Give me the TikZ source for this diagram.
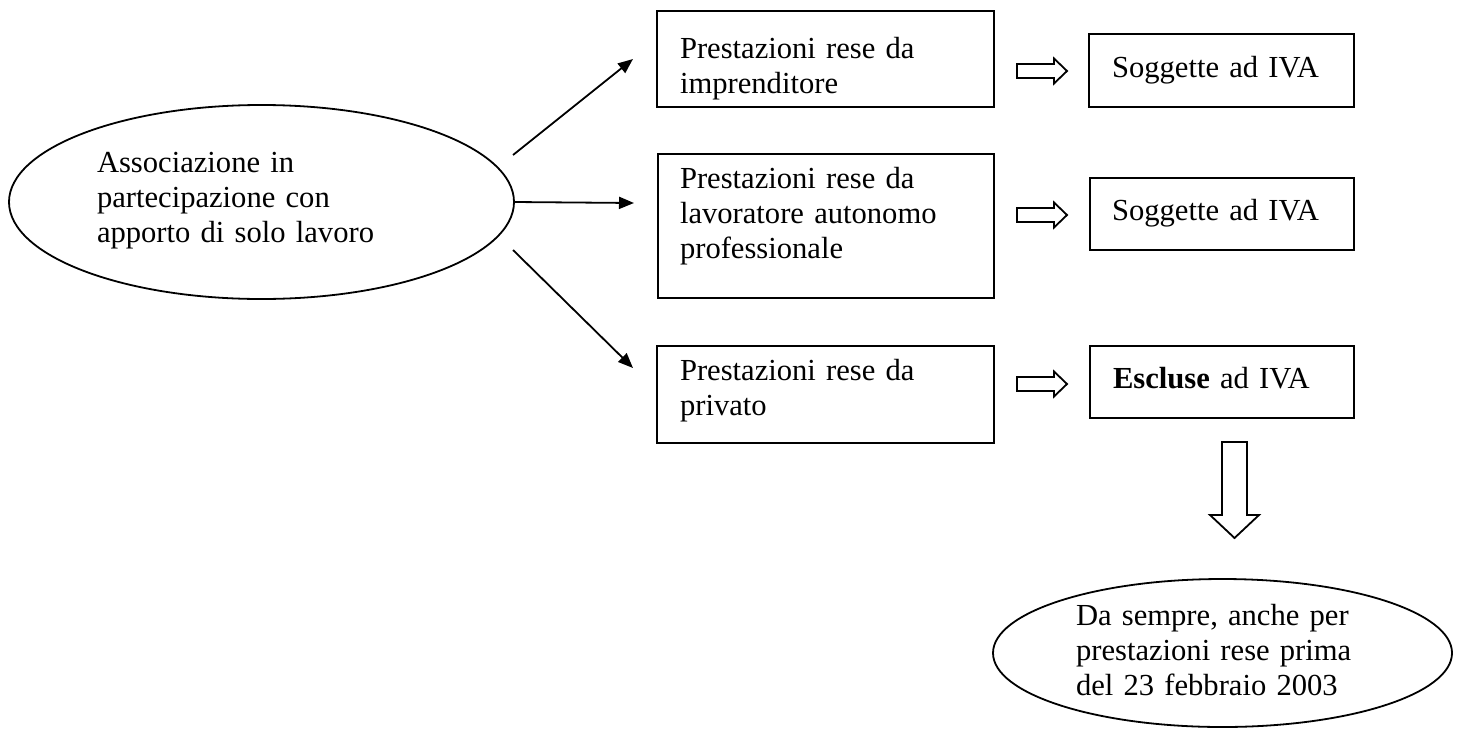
\documentclass[tikz,border=0pt]{standalone}
\usepackage{fontspec}
\setmainfont{Liberation Serif}
\usetikzlibrary{shapes.geometric,arrows.meta}
\begin{document}
\begin{tikzpicture}[x=0.5pt,y=-0.5pt,
  every node/.style={inner sep=0pt, outer sep=0pt},
  boxn/.style={draw, line width=0.9pt, rectangle},
  ovaln/.style={draw, line width=0.9pt, ellipse},
  txt/.style={anchor=base west, text width=300pt, align=left,
    font=\fontsize{15.3}{17.5}\selectfont},
  arr/.style={line width=0.9pt, -{Triangle[length=7.5pt,width=6pt]}},
  hollow/.style={draw, line width=0.9pt, line join=miter}]
\useasboundingbox (0,0) rectangle (1459,728);

% main ellipse
\node[ovaln, minimum width=252.5pt, minimum height=97pt] (e1) at (261.5,202) {};
\node[txt] (te1) at (97,172) {Associazione in\\partecipazione con\\apporto di solo lavoro};

% left boxes
\node[boxn, minimum width=168.5pt, minimum height=48pt] (b1) at (825.5,59) {};
\node[txt] (tb1) at (680,58) {Prestazioni rese da\\imprenditore};
\node[boxn, minimum width=168pt, minimum height=72pt] (b2) at (826,226) {};
\node[txt] (tb2) at (680,188) {Prestazioni rese da\\lavoratore autonomo\\professionale};
\node[boxn, minimum width=168.5pt, minimum height=48.5pt] (b3) at (825.5,394.5) {};
\node[txt] (tb3) at (680,380) {Prestazioni rese da\\privato};

% right boxes
\node[boxn, minimum width=132.5pt, minimum height=36.5pt] (r1) at (1221.5,70.5) {};
\node[txt] (tr1) at (1112,77) {Soggette ad IVA};
\node[boxn, minimum width=132pt, minimum height=36pt] (r2) at (1222,214) {};
\node[txt] (tr2) at (1112,220) {Soggette ad IVA};
\node[boxn, minimum width=132pt, minimum height=36pt] (r3) at (1222,382) {};
\node[txt] (tr3) at (1113,388) {\textbf{Escluse} ad IVA};

% bottom ellipse
\node[ovaln, minimum width=229.5pt, minimum height=74pt] (e2) at (1222.5,653) {};
\node[txt] (te2) at (1076,625) {Da sempre, anche per\\prestazioni rese prima\\del 23 febbraio 2003};

% line arrows
\coordinate (s1) at (513,155); \coordinate (t1) at (633,59);
\coordinate (t2) at (634,203);
\coordinate (s3) at (513,250); \coordinate (t3) at (633,368);
\draw[arr] (s1) -- (t1);
\draw[arr] (e1.east) -- (t2);
\draw[arr] (s3) -- (t3);

% hollow right arrows
\coordinate (h1) at (1017,71);
\coordinate (h2) at (1017,215);
\coordinate (h3) at (1017,384);
\foreach \h in {h1,h2,h3}
  \draw[hollow] (\h) ++(0,-7) -- ++(37,0) -- ++(0,-5.5) -- ++(13,12.5) -- ++(-13,12.5) -- ++(0,-5.5) -- ++(-37,0) -- cycle;

% hollow down arrow
\coordinate (dt) at (1234.5,442);
\draw[hollow] (dt) ++(-12.5,0) -- ++(25,0) -- ++(0,73) -- ++(12,0) -- ++(-24.5,23) -- ++(-24.5,-23) -- ++(12,0) -- cycle;
\end{tikzpicture}
\end{document}
